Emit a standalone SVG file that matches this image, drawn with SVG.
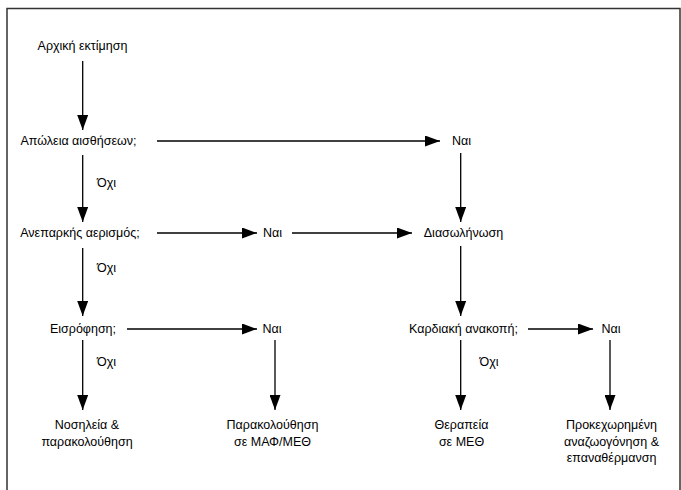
<svg xmlns="http://www.w3.org/2000/svg" width="681" height="490" viewBox="0 0 681 490">
<style>
text{font-family:"Liberation Sans",Arial,sans-serif;font-size:12.5px;fill:#000;text-anchor:middle}
.c line{stroke:#000;stroke-width:1.3}
</style>
<defs>
<marker id="ah" viewBox="0 0 15 11" refX="15" refY="5.5" markerWidth="15" markerHeight="11" markerUnits="userSpaceOnUse" orient="auto">
<path d="M0,0 L15,5.5 L0,11 z" fill="#000"/>
</marker>
</defs>
<rect x="7" y="8.5" width="673" height="500" fill="#fff" stroke="#333" stroke-width="1.5"/>
<g class="c" id="connectors">
<line x1="82.7" y1="61" x2="82.7" y2="130" marker-end="url(#ah)"/>
<line x1="157" y1="141" x2="440" y2="141" marker-end="url(#ah)"/>
<line x1="82.7" y1="155" x2="82.7" y2="222" marker-end="url(#ah)"/>
<line x1="460.7" y1="153" x2="460.7" y2="222" marker-end="url(#ah)"/>
<line x1="157" y1="233" x2="257" y2="233" marker-end="url(#ah)"/>
<line x1="292" y1="233" x2="412" y2="233" marker-end="url(#ah)"/>
<line x1="82.7" y1="248" x2="82.7" y2="316" marker-end="url(#ah)"/>
<line x1="460.7" y1="246" x2="460.7" y2="316" marker-end="url(#ah)"/>
<line x1="127" y1="329" x2="257" y2="329" marker-end="url(#ah)"/>
<line x1="528" y1="329" x2="593" y2="329" marker-end="url(#ah)"/>
<line x1="82.7" y1="340" x2="82.7" y2="410" marker-end="url(#ah)"/>
<line x1="275" y1="340" x2="275" y2="410" marker-end="url(#ah)"/>
<line x1="460.7" y1="340" x2="460.7" y2="410" marker-end="url(#ah)"/>
<line x1="610" y1="340" x2="610" y2="410" marker-end="url(#ah)"/>
</g>
<g id="n-start"><text x="82.5" y="50">Αρχική εκτίμηση</text></g>
<g id="n-loss"><text x="78.5" y="145">Απώλεια αισθήσεων;</text></g>
<g id="n-yes1"><text x="461.5" y="145">Ναι</text></g>
<g id="l-no1"><text x="106.5" y="187">Όχι</text></g>
<g id="n-vent"><text x="80" y="237">Ανεπαρκής αερισμός;</text></g>
<g id="n-yes2"><text x="272.5" y="237">Ναι</text></g>
<g id="n-intub"><text x="463.5" y="237">Διασωλήνωση</text></g>
<g id="l-no2"><text x="106.5" y="272">Όχι</text></g>
<g id="n-aspir"><text x="83" y="333">Εισρόφηση;</text></g>
<g id="n-yes3"><text x="272" y="333">Ναι</text></g>
<g id="n-arrest"><text x="463.5" y="333">Καρδιακή ανακοπή;</text></g>
<g id="n-yes4"><text x="611" y="333">Ναι</text></g>
<g id="l-no3"><text x="106.5" y="366">Όχι</text></g>
<g id="l-no4"><text x="489" y="366">Όχι</text></g>
<g id="n-hosp"><text x="87" y="429">Νοσηλεία &amp;</text><text x="87" y="446">παρακολούθηση</text></g>
<g id="n-icu"><text x="272.5" y="429">Παρακολούθηση</text><text x="272.5" y="446">σε ΜΑΦ/ΜΕΘ</text></g>
<g id="n-ther"><text x="461.5" y="429">Θεραπεία</text><text x="461.5" y="446">σε ΜΕΘ</text></g>
<g id="n-als"><text x="611.5" y="429">Προκεχωρημένη</text><text x="611.5" y="446">αναζωογόνηση &amp;</text><text x="611.5" y="462">επαναθέρμανση</text></g>
</svg>
